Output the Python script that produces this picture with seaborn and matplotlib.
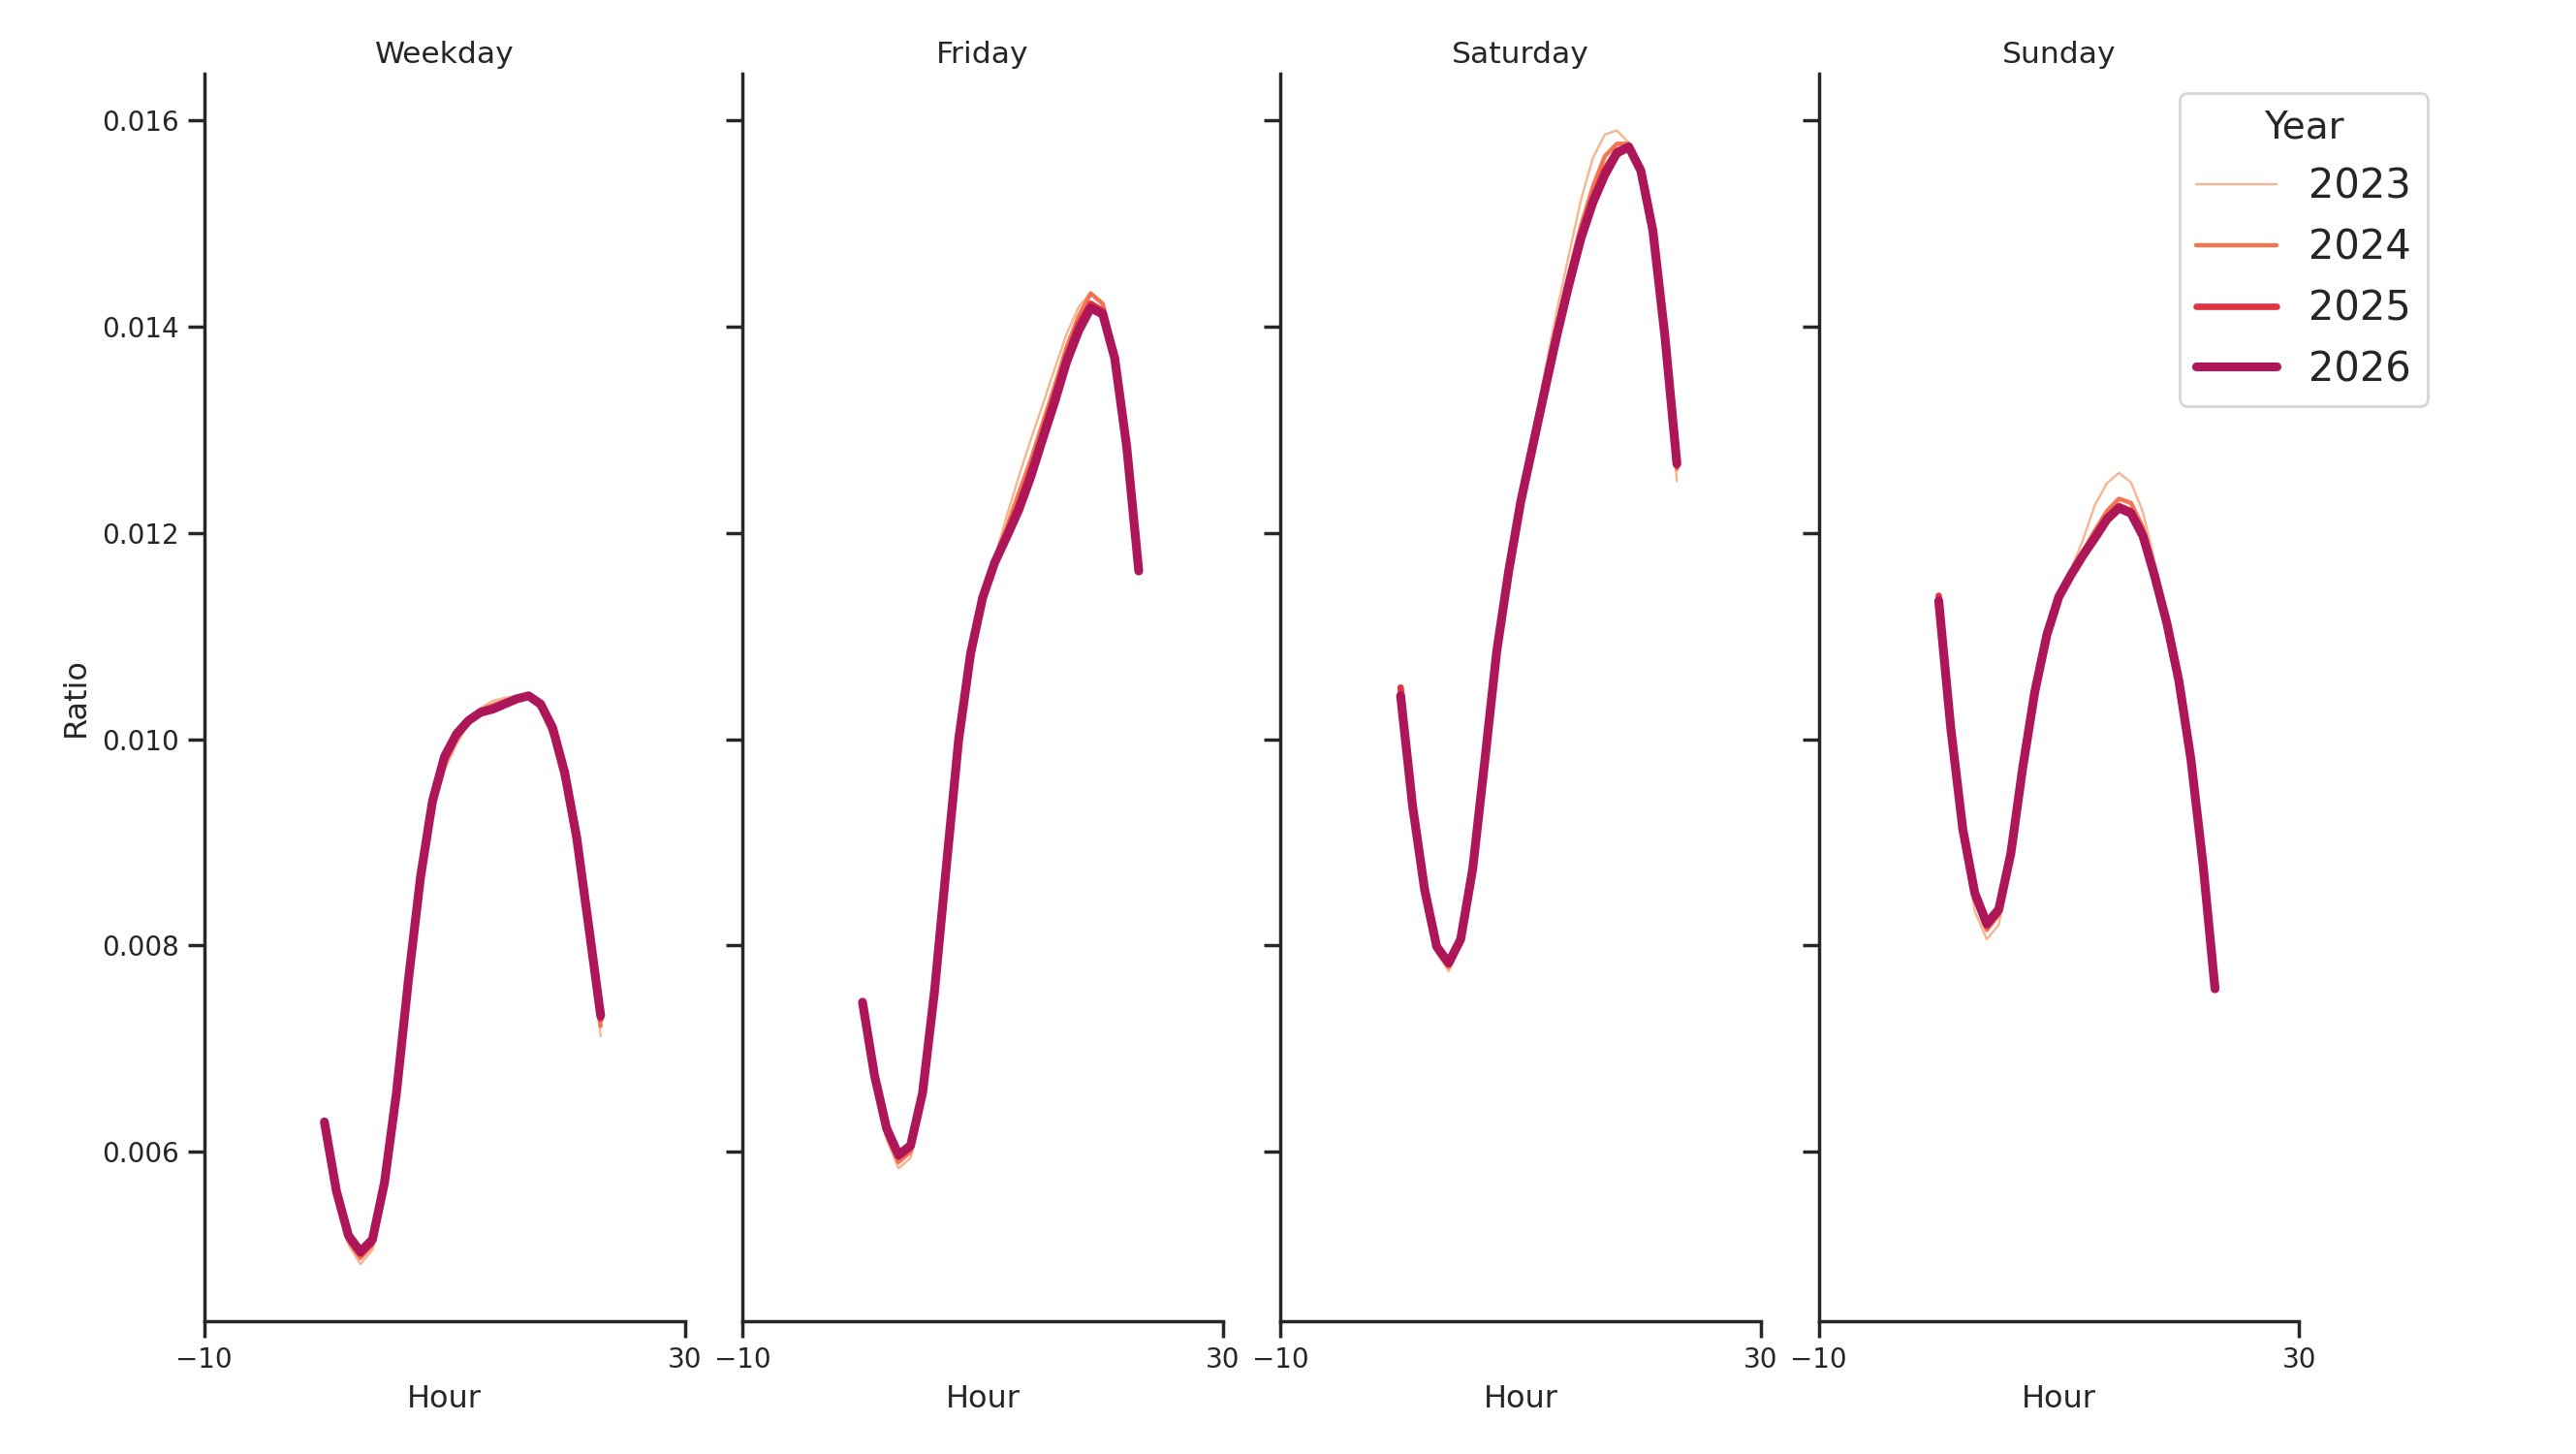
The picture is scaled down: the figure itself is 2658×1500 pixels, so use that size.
import pandas as pd
import seaborn as sns
from matplotlib import pyplot as plt

hours = list(range(24))
day_types = ["Weekday", "Friday", "Saturday", "Sunday"]
years = ["2023", "2024", "2025", "2026"]

# ratio per hour, one list per (day type, year)
weekday_2023 = [0.00625, 0.00556, 0.00510, 0.00491, 0.00505, 0.00562, 0.00650, 0.00760, 0.00858, 0.00928, 0.00970, 0.00995,
                0.01015, 0.01030, 0.01037, 0.01040, 0.01042, 0.01040, 0.01029, 0.01000, 0.00952, 0.00888, 0.00805, 0.00712]
weekday_2024 = [0.00627, 0.00559, 0.00514, 0.00497, 0.00510, 0.00566, 0.00653, 0.00763, 0.00862, 0.00934, 0.00976, 0.01000,
                0.01016, 0.01028, 0.01033, 0.01037, 0.01040, 0.01041, 0.01031, 0.01005, 0.00960, 0.00896, 0.00812, 0.00722]
weekday_2025 = [0.00628, 0.00561, 0.00517, 0.00501, 0.00513, 0.00568, 0.00655, 0.00765, 0.00864, 0.00937, 0.00980, 0.01003,
                0.01017, 0.01026, 0.01030, 0.01035, 0.01039, 0.01041, 0.01033, 0.01009, 0.00965, 0.00902, 0.00817, 0.00729]
weekday_2026 = [0.00629, 0.00562, 0.00519, 0.00503, 0.00515, 0.00570, 0.00657, 0.00767, 0.00866, 0.00940, 0.00983, 0.01005,
                0.01018, 0.01026, 0.01029, 0.01034, 0.01039, 0.01042, 0.01034, 0.01011, 0.00968, 0.00905, 0.00819, 0.00732]

friday_2023 = [0.00742, 0.00668, 0.00612, 0.00584, 0.00594, 0.00650, 0.00752, 0.00876, 0.00997, 0.01082, 0.01138, 0.01176,
               0.01216, 0.01254, 0.01290, 0.01324, 0.01359, 0.01393, 0.01419, 0.01433, 0.01423, 0.01374, 0.01284, 0.01160]
friday_2024 = [0.00744, 0.00671, 0.00617, 0.00590, 0.00600, 0.00653, 0.00754, 0.00878, 0.00998, 0.01083, 0.01138, 0.01174,
               0.01205, 0.01238, 0.01270, 0.01306, 0.01342, 0.01380, 0.01410, 0.01432, 0.01422, 0.01373, 0.01284, 0.01162]
friday_2025 = [0.00745, 0.00673, 0.00621, 0.00595, 0.00604, 0.00656, 0.00755, 0.00879, 0.00999, 0.01083, 0.01137, 0.01172,
               0.01199, 0.01227, 0.01260, 0.01296, 0.01333, 0.01371, 0.01402, 0.01422, 0.01415, 0.01370, 0.01283, 0.01163]
friday_2026 = [0.00745, 0.00674, 0.00623, 0.00597, 0.00606, 0.00657, 0.00756, 0.00879, 0.00999, 0.01083, 0.01137, 0.01171,
               0.01196, 0.01222, 0.01254, 0.01291, 0.01327, 0.01366, 0.01396, 0.01418, 0.01412, 0.01369, 0.01283, 0.01163]

saturday_2023 = [0.01045, 0.00932, 0.00850, 0.00793, 0.00775, 0.00800, 0.00870, 0.00976, 0.01085, 0.01165, 0.01235, 0.01294,
                 0.01356, 0.01415, 0.01469, 0.01522, 0.01563, 0.01586, 0.01590, 0.01578, 0.01550, 0.01490, 0.01388, 0.01250]
saturday_2024 = [0.01046, 0.00934, 0.00852, 0.00796, 0.00779, 0.00803, 0.00872, 0.00977, 0.01085, 0.01164, 0.01232, 0.01288,
                 0.01344, 0.01399, 0.01450, 0.01497, 0.01535, 0.01565, 0.01577, 0.01577, 0.01553, 0.01493, 0.01390, 0.01262]
saturday_2025 = [0.01050, 0.00936, 0.00854, 0.00798, 0.00782, 0.00805, 0.00873, 0.00978, 0.01085, 0.01163, 0.01231, 0.01285,
                 0.01340, 0.01393, 0.01443, 0.01488, 0.01524, 0.01552, 0.01570, 0.01575, 0.01552, 0.01493, 0.01391, 0.01265]
saturday_2026 = [0.01042, 0.00935, 0.00854, 0.00799, 0.00783, 0.00806, 0.00874, 0.00978, 0.01085, 0.01163, 0.01230, 0.01284,
                 0.01338, 0.01391, 0.01440, 0.01485, 0.01520, 0.01547, 0.01568, 0.01574, 0.01551, 0.01493, 0.01391, 0.01267]

sunday_2023 = [0.01130, 0.01005, 0.00902, 0.00833, 0.00806, 0.00820, 0.00880, 0.00968, 0.01043, 0.01100, 0.01138, 0.01164,
               0.01193, 0.01227, 0.01248, 0.01258, 0.01249, 0.01220, 0.01171, 0.01120, 0.01060, 0.00982, 0.00880, 0.00757]
sunday_2024 = [0.01133, 0.01009, 0.00909, 0.00845, 0.00815, 0.00830, 0.00886, 0.00971, 0.01045, 0.01101, 0.01138, 0.01160,
               0.01182, 0.01202, 0.01221, 0.01233, 0.01229, 0.01205, 0.01162, 0.01115, 0.01057, 0.00980, 0.00879, 0.00758]
sunday_2025 = [0.01139, 0.01012, 0.00912, 0.00849, 0.00819, 0.00833, 0.00888, 0.00972, 0.01046, 0.01101, 0.01138, 0.01159,
               0.01179, 0.01197, 0.01215, 0.01226, 0.01221, 0.01199, 0.01158, 0.01112, 0.01056, 0.00980, 0.00879, 0.00758]
sunday_2026 = [0.01134, 0.01011, 0.00913, 0.00851, 0.00821, 0.00835, 0.00889, 0.00973, 0.01046, 0.01101, 0.01138, 0.01159,
               0.01178, 0.01195, 0.01213, 0.01224, 0.01219, 0.01197, 0.01157, 0.01112, 0.01056, 0.00980, 0.00879, 0.00758]

series = {
    ("Weekday", "2023"): weekday_2023, ("Weekday", "2024"): weekday_2024,
    ("Weekday", "2025"): weekday_2025, ("Weekday", "2026"): weekday_2026,
    ("Friday", "2023"): friday_2023, ("Friday", "2024"): friday_2024,
    ("Friday", "2025"): friday_2025, ("Friday", "2026"): friday_2026,
    ("Saturday", "2023"): saturday_2023, ("Saturday", "2024"): saturday_2024,
    ("Saturday", "2025"): saturday_2025, ("Saturday", "2026"): saturday_2026,
    ("Sunday", "2023"): sunday_2023, ("Sunday", "2024"): sunday_2024,
    ("Sunday", "2025"): sunday_2025, ("Sunday", "2026"): sunday_2026,
}

rows = []
for (day, year), vals in series.items():
    for h, v in zip(hours, vals):
        rows.append({"DayType": day, "Year": year, "Hour": h, "Ratio": v})
df = pd.DataFrame(rows)

sns.set_theme(style="ticks")
palette = sns.color_palette("rocket_r", 6)[:4]
line_sizes = dict(zip(years, [0.85, 1.6, 2.4, 3.3]))

g = sns.relplot(data=df, x="Hour", y="Ratio", col="DayType", col_order=day_types,
                hue="Year", hue_order=years, size="Year", size_order=years,
                sizes=line_sizes, palette=palette, kind="line", errorbar=None,
                height=6.45, aspect=0.386)
g.set_titles("{col_name}", size=11.3, pad=4)
g.set_axis_labels("Hour", "Ratio", fontsize=11.5)
g.set(xlim=(-10, 30), xticks=[-10, 30])
g.tick_params(labelsize=10)

g.figure.set_size_inches(13.29, 7.5)
g.figure.subplots_adjust(left=0.0793, right=0.8925, bottom=0.0915, top=0.9493, wspace=0.12)
sns.move_legend(g, "upper right", bbox_to_anchor=(0.9424, 0.936), frameon=True,
                fontsize=15, title_fontsize=14, borderaxespad=0)

g.figure.savefig("out.png", dpi=200)
